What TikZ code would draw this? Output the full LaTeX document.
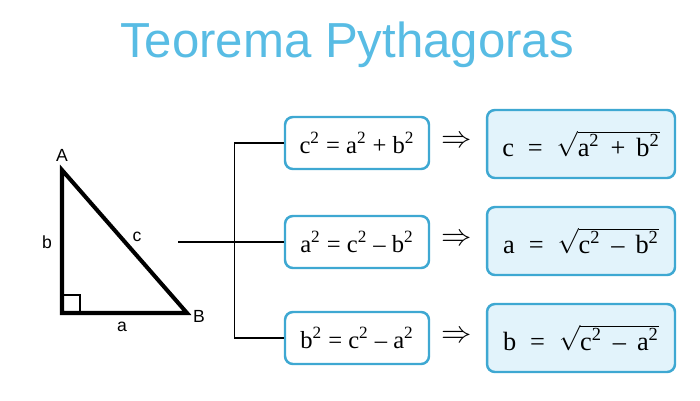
\documentclass[tikz,border=0pt]{standalone}
\usepackage{fontspec}
\setmainfont{Liberation Serif}
\newfontfamily\labelfont{Liberation Sans}
\usetikzlibrary{positioning}
\definecolor{titleblue}{RGB}{88,188,228}
\definecolor{boxblue}{RGB}{62,168,210}
\definecolor{fillblue}{RGB}{226,243,251}
\newcommand{\pw}[1]{#1\textsuperscript{2}}
\tikzset{
  eqbox/.style={draw=boxblue,line width=1.4pt,rounded corners=4.5pt,
    minimum width=2.88cm,minimum height=1.04cm,inner sep=2pt,
    font=\fontsize{14}{16}\selectfont},
  rootbox/.style={eqbox,fill=fillblue,minimum width=3.76cm,
    minimum height=1.36cm,font=\fontsize{15}{17}\selectfont},
  side/.style={font=\labelfont\fontsize{10}{12}\selectfont},
  implies/.style={font=\fontsize{19}{21}\selectfont}
}

\begin{document}
\begin{tikzpicture}[x=0.02cm,y=-0.02cm]
            \useasboundingbox (0,0) rectangle (700,400);
            % Title
            \node (title) at (347,45) {\labelfont\fontsize{28}{32}\selectfont\color{titleblue}Teorema Pythagoras};
            % Triangle
            \coordinate (A) at (62,170);
            \coordinate (C) at (62,313);
            \coordinate (B) at (187,313);
            \draw[line width=2.3pt] (A) -- (C) -- (B) -- cycle;
            \draw[line width=0.6pt] (C) rectangle ++(18,-18);
            \node[side] (lA) at (62,155) {A};
            \node[side] (lB) at (199,316) {B};
            \node[side] (la) at (122,327) {a};
            \node[side] (lb) at (47,242) {b};
            \node[side] (lc) at (137,237) {c};
            % Formulas
            \node[eqbox] (eq1) at (357,143) {\pw{c} = \pw{a} + \pw{b}};
            \node[eqbox] (eq2) at (357,242) {\pw{a} = \pw{c} -- \pw{b}};
            \node[eqbox] (eq3) at (357,338) {\pw{b} = \pw{c} -- \pw{a}};
            \node[rootbox] (root1) at (581,144) {c \;=\; $\sqrt{\mbox{\pw{a} \,+\, \pw{b}}}$};
            \node[rootbox] (root2) at (581,241) {a \;=\; $\sqrt{\mbox{\pw{c} \,--\, \pw{b}}}$};
            \node[rootbox] (root3) at (581,338) {b \;=\; $\sqrt{\mbox{\pw{c} \,--\, \pw{a}}}$};
            \node[implies] (imp1) at (457,142) {$\Rightarrow$};
            \node[implies] (imp2) at (457,240) {$\Rightarrow$};
            \node[implies] (imp3) at (457,337) {$\Rightarrow$};
            % Connectors
            \coordinate (hub) at (178,242);
            \draw[line width=0.6pt] (hub) -- (eq2.west);
            \draw[line width=0.6pt] (eq1.west) -- ++(-49,0) |- (eq3.west);
\end{tikzpicture}
\end{document}
